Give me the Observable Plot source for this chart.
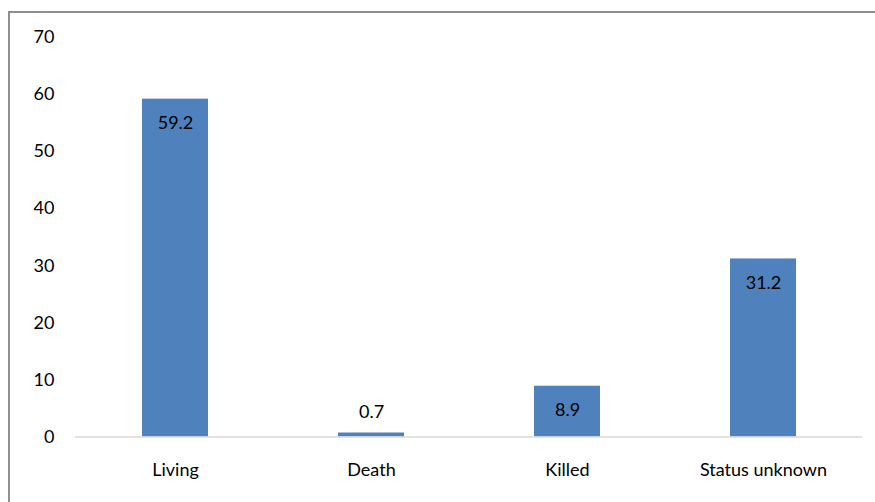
<!DOCTYPE html>
<html><head><meta charset="utf-8">
<script src="https://cdn.jsdelivr.net/npm/d3@7"></script>
<script src="https://cdn.jsdelivr.net/npm/@observablehq/plot@0.6"></script>
<style>
html,body{margin:0;padding:0;background:#fff;overflow:hidden;width:875px;height:502px;}
#wrap{position:relative;width:875px;height:502px;}
#frame{position:absolute;left:8px;top:11px;width:1000px;height:1000px;border:2px solid #8f8f8f;box-sizing:border-box;pointer-events:none;}
svg{font-family:Lato,"Open Sans",sans-serif;}
</style></head>
<body><div id="wrap"><div id="frame"></div></div>
<script>
const categories = ["Living", "Death", "Killed", "Status unknown"];
const values = [59.2, 0.7, 8.9, 31.2];
const yTicks = [0, 10, 20, 30, 40, 50, 60, 70];

const data = categories.map((c, i) => ({category: c, value: values[i]}));
const inside = data.filter(d => d.value >= 5);
const above = data.filter(d => d.value < 5);

const chart = Plot.plot({
  width: 875,
  height: 502,
  marginLeft: 75,
  marginRight: 13,
  marginTop: 37,
  marginBottom: 65.5,
  style: {fontFamily: "Lato, 'Open Sans', sans-serif", fontSize: "18px", color: "#000", background: "transparent"},
  x: {domain: categories, paddingInner: 0.665, paddingOuter: 0.3325, label: null, tickSize: 0, tickPadding: 26},
  y: {domain: [0, 70], ticks: yTicks, label: null, tickSize: 0, tickPadding: 21},
  marks: [
    Plot.barY(data, {x: "category", y: "value", fill: "#4f81bd"}),
    Plot.ruleY([0], {stroke: "#d9d9d9", strokeWidth: 1.5}),
    Plot.text(inside, {x: "category", y: "value", text: d => d.value.toFixed(1), dy: 24, fontSize: 18, fill: "#000"}),
    Plot.text(above, {x: "category", y: "value", text: d => d.value.toFixed(1), dy: -21, fontSize: 18, fill: "#000"})
  ]
});
document.getElementById("wrap").prepend(chart);
chart.style.position = "absolute";
chart.style.left = "0";
chart.style.top = "0";
</script>
</body></html>
